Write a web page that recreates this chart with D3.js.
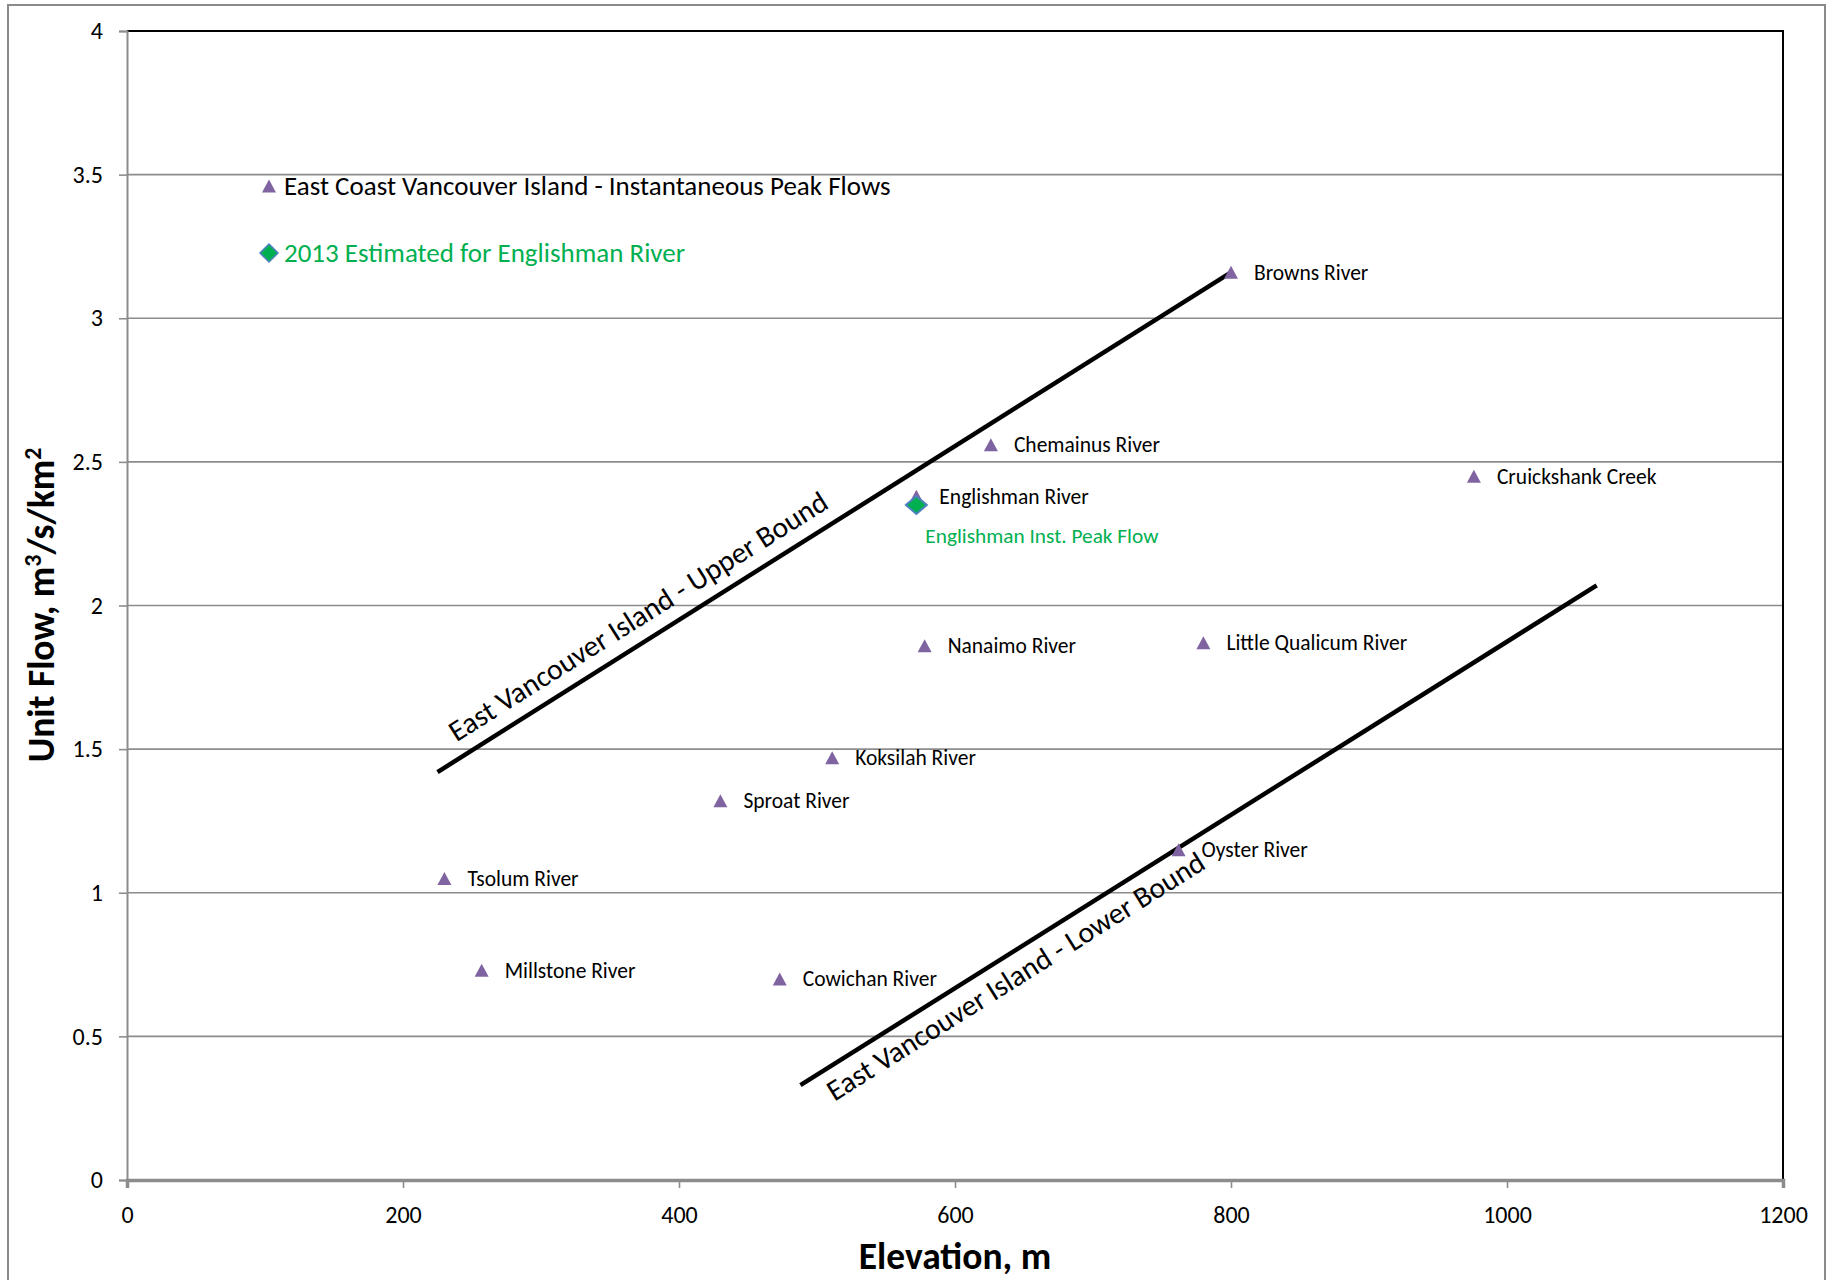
<!DOCTYPE html>
<html>
<head>
<meta charset="utf-8">
<script src="https://cdn.jsdelivr.net/npm/d3@7"></script>
<style>
  html, body { margin: 0; padding: 0; background: #fff; }
  svg { display: block; }
  text { font-family: Carlito, Calibri, Lato, "Open Sans", sans-serif; }
</style>
</head>
<body>
<svg id="chart" width="1833" height="1280"></svg>
<script>
// ---- data ----
const riverNames = ["Browns River", "Chemainus River", "Cruickshank Creek", "Englishman River",
  "Nanaimo River", "Little Qualicum River", "Koksilah River", "Sproat River",
  "Tsolum River", "Oyster River", "Millstone River", "Cowichan River"];
const riverElevations = [800, 626, 976, 572, 578, 780, 511, 430, 230, 762, 257, 473];
const riverUnitFlows  = [3.16, 2.56, 2.45, 2.38, 1.86, 1.87, 1.47, 1.32, 1.05, 1.15, 0.73, 0.70];

const estimateNames = ["Englishman Inst. Peak Flow"];
const estimateElevations = [572];
const estimateUnitFlows = [2.35];

const boundNames = ["East Vancouver Island - Upper Bound", "East Vancouver Island - Lower Bound"];
const boundStartElev = [225, 488];
const boundStartFlow = [1.42, 0.33];
const boundEndElev = [800, 1065];
const boundEndFlow = [3.16, 2.07];

const xTicks = [0, 200, 400, 600, 800, 1000, 1200];
const yTicks = [0, 0.5, 1, 1.5, 2, 2.5, 3, 3.5, 4];
const legendLabels = ["East Coast Vancouver Island - Instantaneous Peak Flows", "2013 Estimated for Englishman River"];

// ---- layout ----
const svg = d3.select("#chart");
const L = 127, R = 1783, T = 31, B = 1180;
const x = d3.scaleLinear().domain([0, 1200]).range([L, R]);
const y = d3.scaleLinear().domain([0, 4]).range([B, T]);

const purple = "#8064A2", green = "#00B050", blueEdge = "#4F81BD", grid = "#8c8c8c";

// outer chart border
svg.append("rect").attr("x", 8).attr("y", 5).attr("width", 1817).attr("height", 1290)
  .attr("fill", "none").attr("stroke", "#8a8a8a").attr("stroke-width", 2);

// gridlines
svg.append("g").selectAll("line").data(yTicks.filter(d => d > 0)).join("line")
  .attr("x1", L).attr("x2", R).attr("y1", d => y(d)).attr("y2", d => y(d))
  .attr("stroke", grid).attr("stroke-width", 1.6);

// plot border (top/right black)
svg.append("path").attr("d", `M${L},${T}H${R}V${B}`).attr("fill", "none")
  .attr("stroke", "#000").attr("stroke-width", 2);

// y axis
const yAxis = svg.append("g").attr("transform", `translate(${L},0)`)
  .call(d3.axisLeft(y).tickValues(yTicks).tickSize(8).tickPadding(16).tickFormat(d3.format("")));
yAxis.select(".domain").attr("stroke", grid).attr("stroke-width", 2);
yAxis.selectAll(".tick line").attr("stroke", grid).attr("stroke-width", 1.6);
yAxis.selectAll(".tick text").attr("font-size", 24).attr("fill", "#000")
  .style("font-family", "Carlito, Calibri, Lato, sans-serif");

// x axis
const xAxis = svg.append("g").attr("transform", `translate(0,${B})`)
  .call(d3.axisBottom(x).tickValues(xTicks).tickSize(8).tickPadding(18).tickFormat(d3.format("")));
xAxis.select(".domain").attr("stroke", grid).attr("stroke-width", 3.5);
xAxis.selectAll(".tick line").attr("stroke", grid).attr("stroke-width", 1.6);
xAxis.selectAll(".tick text").attr("font-size", 24).attr("fill", "#000")
  .style("font-family", "Carlito, Calibri, Lato, sans-serif");

// axis titles
svg.append("text").attr("x", (L + R) / 2).attr("y", 1269).attr("text-anchor", "middle")
  .attr("font-size", 37.5).attr("font-weight", "bold").text("Elevation, m");

const yt = svg.append("text").attr("transform", `translate(54,${605}) rotate(-90)`)
  .attr("text-anchor", "middle").attr("font-size", 37.5).attr("font-weight", "bold");
yt.append("tspan").text("Unit Flow, m");
yt.append("tspan").attr("dy", -13).attr("font-size", 24).text("3");
yt.append("tspan").attr("dy", 13).text("/s/km");
yt.append("tspan").attr("dy", -13).attr("font-size", 24).text("2");

// bound lines
const bounds = boundNames.map((n, i) => ({
  name: n, x0: boundStartElev[i], y0: boundStartFlow[i], x1: boundEndElev[i], y1: boundEndFlow[i]
}));
svg.append("g").selectAll("line").data(bounds).join("line")
  .attr("x1", d => x(d.x0)).attr("y1", d => y(d.y0))
  .attr("x2", d => x(d.x1)).attr("y2", d => y(d.y1))
  .attr("stroke", "#000").attr("stroke-width", 4.5);

// bound labels (along the line)
const labelOffsets = [[32, -15], [20, 32]];
svg.append("g").selectAll("text").data(bounds).join("text")
  .attr("transform", d => {
    const ang = Math.atan2(y(d.y1) - y(d.y0), x(d.x1) - x(d.x0)) * 180 / Math.PI;
    return `translate(${x(d.x0)},${y(d.y0)}) rotate(${ang})`;
  })
  .attr("x", (d, i) => labelOffsets[i][0]).attr("y", (d, i) => labelOffsets[i][1])
  .attr("font-size", 29.5).attr("fill", "#000")
  .text(d => d.name);

// triangle & diamond shapes
const triPath = "M0,-6.5L7,6.5L-7,6.5Z";
const diaPath = "M0,-9L10.5,0L0,9L-10.5,0Z";

const rivers = riverNames.map((n, i) => ({ name: n, e: riverElevations[i], f: riverUnitFlows[i] }));
svg.append("g").selectAll("path").data(rivers).join("path")
  .attr("d", triPath).attr("fill", purple)
  .attr("transform", d => `translate(${x(d.e)},${y(d.f)})`);
svg.append("g").selectAll("text").data(rivers).join("text")
  .attr("x", d => x(d.e) + 23).attr("y", d => y(d.f)).attr("dy", "0.35em")
  .attr("font-size", 21.5).attr("fill", "#000").text(d => d.name);

const estimates = estimateNames.map((n, i) => ({ name: n, e: estimateElevations[i], f: estimateUnitFlows[i] }));
svg.append("g").selectAll("path").data(estimates).join("path")
  .attr("d", diaPath).attr("fill", green).attr("stroke", blueEdge).attr("stroke-width", 2)
  .attr("transform", d => `translate(${x(d.e)},${y(d.f)})`);
svg.append("g").selectAll("text").data(estimates).join("text")
  .attr("x", d => x(d.e) + 9).attr("y", d => y(d.f) + 31).attr("dy", "0.35em")
  .attr("font-size", 21.3).attr("fill", green).text(d => d.name);

// legend
const lg = svg.append("g").attr("transform", "translate(269,186)");
lg.append("path").attr("d", triPath).attr("fill", purple);
lg.append("text").attr("x", 15).attr("dy", "0.35em").attr("font-size", 27).attr("fill", "#000").text(legendLabels[0]);
const lg2 = svg.append("g").attr("transform", "translate(269,253)");
lg2.append("path").attr("d", "M0,-9L9,0L0,9L-9,0Z").attr("fill", green).attr("stroke", blueEdge).attr("stroke-width", 1.5);
lg2.append("text").attr("x", 15).attr("dy", "0.35em").attr("font-size", 27).attr("fill", green).text(legendLabels[1]);
</script>
</body>
</html>
